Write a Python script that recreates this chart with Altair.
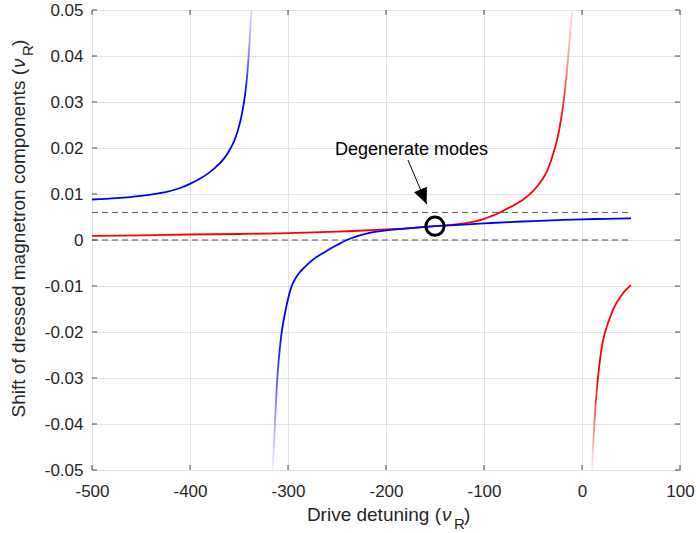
import altair as alt
import pandas as pd

# ---------------- data ----------------
blue_upper_x = [-500, -475, -450, -425, -410, -400, -390, -380, -370, -365, -360, -356, -353, -350, -348,
                -346, -344, -342, -340, -339, -338, -337.2]
blue_upper_y = [0.0088, 0.0091, 0.0096, 0.0104, 0.0113, 0.0122, 0.0133, 0.0147, 0.0166, 0.0178, 0.0194,
                0.0210, 0.0226, 0.0247, 0.0264, 0.0286, 0.0313, 0.0350, 0.0405, 0.0440, 0.0477, 0.0500]

blue_lower_x = [-315.6, -314.5, -313.3, -312.2, -310.9, -309.0, -306.4, -304.5, -302, -299.5, -298, -296.2,
                -294, -291, -288, -284.4, -277, -270, -260, -250, -240, -230, -220, -210, -200, -175, -150,
                -125, -100, -75, -50, -25, 0, 25, 50]
blue_lower_y = [-0.0500, -0.0450, -0.0400, -0.0350, -0.0300, -0.0250, -0.0200, -0.0175, -0.0148, -0.0124,
                -0.0112, -0.0100, -0.0090, -0.0079, -0.0070, -0.0062, -0.0047, -0.0036, -0.0023, -0.0011,
                0.0000, 0.0008, 0.0014, 0.0018, 0.0021, 0.0026, 0.0030, 0.0033, 0.0036, 0.0039, 0.0041,
                0.0043, 0.0045, 0.0046, 0.0047]

red_upper_x = [-500, -450, -400, -350, -300, -250, -200, -175, -150, -125, -110, -100, -90, -80, -70, -60,
               -50, -40, -35, -30, -25, -20, -17, -15, -13, -11.5, -10]
red_upper_y = [0.0009, 0.0010, 0.0012, 0.0013, 0.0015, 0.0018, 0.0023, 0.0026, 0.0030, 0.0035, 0.0040,
               0.0046, 0.0054, 0.0064, 0.0075, 0.0088, 0.0106, 0.0133, 0.0153, 0.0183, 0.0222, 0.0282,
               0.0333, 0.0377, 0.0425, 0.0465, 0.0500]

red_lower_x = [10.2, 11.5, 13, 14, 15.5, 17, 19, 21.5, 25, 28.5, 32, 36, 40, 45, 50]
red_lower_y = [-0.0500, -0.0440, -0.0388, -0.0355, -0.0318, -0.0285, -0.0250, -0.0218, -0.0190, -0.0169,
               -0.0150, -0.0134, -0.0121, -0.0108, -0.0098]

dashed_y = [0.0, 0.006]
dashed_x_start = -500
dashed_x_end = 50

circle_x = [-150]
circle_y = [0.003]

note_text = ["Degenerate modes"]
note_x = [-174]
note_y = [0.0185]
arrow_from = (-177.6, 0.0174)
arrow_to = (-158.5, 0.0078)

x_ticks = [-500, -400, -300, -200, -100, 0, 100]
y_ticks = [-0.05, -0.04, -0.03, -0.02, -0.01, 0.0, 0.01, 0.02, 0.03, 0.04, 0.05]

x_title_parts = ["Drive detuning (", "\u03bd", "R", ")"]
y_title_parts = ["Shift of dressed magnetron components (", "\u03bd", "R", ")"]

# ---------------- styling ----------------
W, H = 588, 460
FONT = "Liberation Sans"
AX = "#262626"
FRAME = "#4a4a4a"

xs = alt.Scale(domain=[-500, 100], nice=False, zero=False)
ys = alt.Scale(domain=[-0.05, 0.05], nice=False, zero=False)

x_axis = alt.Axis(values=x_ticks, grid=True, gridColor="#e3e3e3", ticks=False, tickSize=0, domain=False,
                  labelExpr="(datum.value < 0 ? '-' : '') + format(abs(datum.value), 'd')",
                  labelFont=FONT, labelFontSize=17, labelColor=AX, labelPadding=13,
                  labelFlush=False, labelOverlap=False, title=None)
y_axis = alt.Axis(values=y_ticks, grid=True, gridColor="#e3e3e3", ticks=False, tickSize=0, domain=False,
                  labelExpr="abs(datum.value) < 1e-9 ? '0' : (datum.value < 0 ? '-' : '') + format(abs(datum.value), '.2f')",
                  labelFont=FONT, labelFontSize=17, labelColor=AX, labelPadding=9,
                  labelFlush=False, labelOverlap=False, title=None)


def X(f):
    return alt.X(f, scale=xs, axis=x_axis)


def Y(f):
    return alt.Y(f, scale=ys, axis=y_axis)


dash_df = pd.DataFrame({"y": dashed_y, "x1": [dashed_x_start] * 2, "x2": [dashed_x_end] * 2})
dashed = alt.Chart(dash_df).mark_rule(color="#555555", strokeDash=[6, 4], strokeWidth=1).encode(
    x=X("x1:Q"), x2="x2:Q", y=Y("y:Q"))


def grad(stops):
    return alt.LinearGradient(gradient="linear",
                              stops=[alt.GradientStop(offset=o, color=c) for o, c in stops],
                              x1=0, x2=0, y1=0, y2=1)


def branch(xv, yv, stops):
    df = pd.DataFrame({"x": xv, "y": yv})
    return alt.Chart(df).mark_line(stroke=grad(stops), strokeWidth=1.8, interpolate="catmull-rom",
                                   clip=True).encode(x=X("x:Q"), y=Y("y:Q"))


red_up = branch(red_upper_x, red_upper_y, [(0, "#ffe2e2"), (0.25, "#ff8c8c"), (0.5, "#ff0000"), (1, "#ff0000")])
red_lo = branch(red_lower_x, red_lower_y, [(0, "#ff0000"), (0.5, "#ff0000"), (0.78, "#ff8c8c"), (1, "#fff0f0")])
blue_up = branch(blue_upper_x, blue_upper_y, [(0, "#dcdcff"), (0.22, "#8c8cff"), (0.45, "#0000ff"), (1, "#0000ff")])
blue_lo = branch(blue_lower_x, blue_lower_y, [(0, "#0000ff"), (0.45, "#0000ff"), (0.75, "#8c8cff"), (1, "#f0f0ff")])

circ = alt.Chart(pd.DataFrame({"x": circle_x, "y": circle_y})).mark_point(
    shape="circle", filled=False, size=330, stroke="black", strokeWidth=3, opacity=1).encode(
    x=X("x:Q"), y=Y("y:Q"))

arrow_df = pd.DataFrame({"x": [arrow_from[0]], "y": [arrow_from[1]], "x2": [arrow_to[0]], "y2": [arrow_to[1]]})
arrow_line = alt.Chart(arrow_df).mark_rule(color="black", strokeWidth=1).encode(
    x=X("x:Q"), y=Y("y:Q"), x2="x2:Q", y2="y2:Q")
arrow_head = alt.Chart(pd.DataFrame({"x": [arrow_to[0]], "y": [arrow_to[1]]})).mark_point(
    shape="M0,0L-0.44,-1L0.44,-1Z", filled=True, color="black", size=1000, angle=337, opacity=1).encode(
    x=X("x:Q"), y=Y("y:Q"))

note = alt.Chart(pd.DataFrame({"t": note_text, "x": note_x, "y": note_y})).mark_text(
    font=FONT, fontSize=18, color="black", align="center", baseline="alphabetic").encode(
    x=X("x:Q"), y=Y("y:Q"), text="t:N")

# inner tick marks on all four sides
xt = pd.DataFrame({"v": x_ticks})
yt = pd.DataFrame({"v": y_ticks})
tick_b = alt.Chart(xt).mark_rule(color=FRAME, strokeWidth=1).encode(
    x=X("v:Q"), y=alt.value(H), y2=alt.value(H - 5))
tick_t = alt.Chart(xt).mark_rule(color=FRAME, strokeWidth=1).encode(
    x=X("v:Q"), y=alt.value(0), y2=alt.value(5))
tick_l = alt.Chart(yt).mark_rule(color=FRAME, strokeWidth=1).encode(
    y=Y("v:Q"), x=alt.value(0), x2=alt.value(5))
tick_r = alt.Chart(yt).mark_rule(color=FRAME, strokeWidth=1).encode(
    y=Y("v:Q"), x=alt.value(W), x2=alt.value(W - 5))


def txt(s, x, y, size, align="left", angle=0, style="normal"):
    kw = dict(font=FONT, fontSize=size, color=AX, align=align, baseline="alphabetic", fontStyle=style)
    if angle:
        kw["angle"] = angle
    return alt.Chart(pd.DataFrame({"t": [s]})).mark_text(**kw).encode(
        x=alt.value(x), y=alt.value(y), text="t:N")


xt0, xt1, xt2, xt3 = x_title_parts
x_title = [
    txt(xt0, 349, 511, 19, "right"),
    txt(xt1, 350, 511, 19, "left", style="italic"),
    txt(xt2, 362, 519, 15, "left"),
    txt(xt3, 372, 511, 19, "left"),
]
yt0, yt1, yt2, yt3 = y_title_parts
y_title = [
    txt(yt0, -67, 59, 19, "right", 270),
    txt(yt1, -67, 58, 19, "left", 270, "italic"),
    txt(yt2, -59, 46, 15, "left", 270),
    txt(yt3, -67, 36, 19, "left", 270),
]

chart = alt.layer(
    dashed, red_up, red_lo, blue_up, blue_lo, circ, arrow_line, arrow_head, note,
    tick_b, tick_t, tick_l, tick_r, *x_title, *y_title
).properties(
    width=W, height=H,
    autosize=alt.AutoSizeParams(type="none"),
    padding={"left": 92, "top": 10, "right": 16, "bottom": 63},
).configure_view(stroke=FRAME, strokeWidth=1)

chart.save("out.html", embed_options={"renderer": "svg", "actions": False})
